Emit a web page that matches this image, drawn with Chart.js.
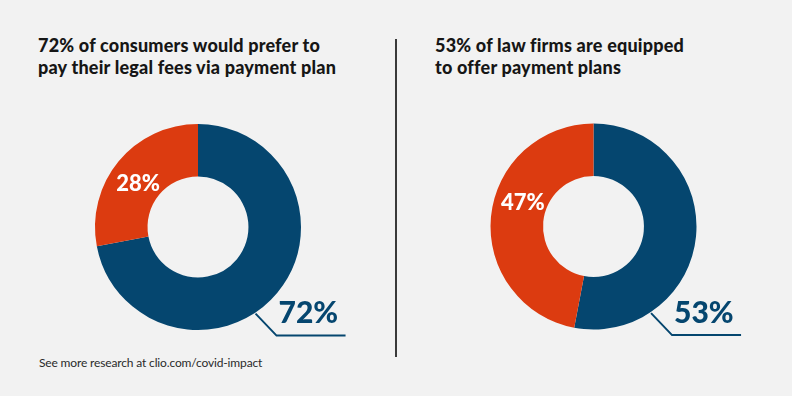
<!DOCTYPE html>
<html>
<head>
<meta charset="utf-8">
<script src="https://cdn.jsdelivr.net/npm/chart.js@4"></script>
<style>
  html, body { margin:0; padding:0; }
  body { width:792px; height:396px; background:#f2f2f2; position:relative; overflow:hidden; font-family: Lato, "Noto Sans", sans-serif; }
  .title { position:absolute; top:34px; font-weight:900; font-size:18px; line-height:22px; color:#161616; white-space:nowrap; letter-spacing:0.2px; }
  #t1 { left:38px; }
  #t2 { left:435px; }
  #divider { position:absolute; left:395px; top:39px; width:2px; height:318px; background:#3a3a3a; }
  #footer { position:absolute; left:39px; top:355px; font-size:12px; color:#2a2a2a; white-space:nowrap; letter-spacing:-0.15px; }
  canvas { position:absolute; top:0; }
  #c1 { left:0; }
  #c2 { left:396px; }
</style>
</head>
<body>
<div id="t1" class="title"></div>
<div id="t2" class="title"></div>
<div id="divider"></div>
<div id="footer"></div>
<canvas id="c1" width="396" height="396"></canvas>
<canvas id="c2" width="396" height="396"></canvas>
<script>
const titleLeft = ["72% of consumers would prefer to", "pay their legal fees via payment plan"];
const titleRight = ["53% of law firms are equipped", "to offer payment plans"];
const footerText = "See more research at clio.com/covid-impact";
const categories = ["Yes", "No"];
const leftValues = [72, 28];
const rightValues = [53, 47];
const sliceColors = ["#05466f", "#dc3b10"];

document.getElementById('t1').innerHTML = titleLeft.join('<br>');
document.getElementById('t2').innerHTML = titleRight.join('<br>');
document.getElementById('footer').textContent = footerText;

const labelPlugin = {
  id: 'labelPlugin',
  afterDraw(chart, args, opts) {
    const ctx = chart.ctx;
    const meta = chart.getDatasetMeta(0);
    const vals = chart.data.datasets[0].data;
    const big = meta.data[0], small = meta.data[1];
    const cx = big.x, cy = big.y;
    const R = big.outerRadius, r0 = big.innerRadius;
    ctx.save();
    // small slice label
    const a = small.startAngle + opts.smallFrac * (small.endAngle - small.startAngle);
    const rm = (R + r0) / 2 - 2;
    ctx.fillStyle = '#ffffff';
    ctx.font = '900 22px Lato';
    ctx.textAlign = 'center';
    ctx.textBaseline = 'middle';
    ctx.fillText(vals[1] + '%', cx + rm * Math.cos(a), cy + rm * Math.sin(a) + 1);
    // leader line for big slice
    const la = opts.leaderAngle * Math.PI / 180;
    const x0 = cx + (R + 1) * Math.cos(la), y0 = cy + (R + 1) * Math.sin(la);
    const x1 = x0 + 21, y1 = y0 + 22;
    const x2 = x1 + 69;
    ctx.strokeStyle = sliceColors[0];
    ctx.lineWidth = 2;
    ctx.beginPath();
    ctx.moveTo(x0, y0); ctx.lineTo(x1, y1); ctx.lineTo(x2, y1);
    ctx.stroke();
    ctx.fillStyle = sliceColors[0];
    ctx.font = '900 30px Lato';
    ctx.textAlign = 'left';
    ctx.textBaseline = 'alphabetic';
    ctx.fillText(vals[0] + '%', x1 + 2, y1 - 12.5);
    ctx.restore();
  }
};

function makeChart(id, values, pad, smallFrac) {
  return new Chart(document.getElementById(id), {
    type: 'doughnut',
    data: { labels: categories, datasets: [{ data: values, backgroundColor: sliceColors, borderWidth: 0, hoverOffset: 0 }] },
    options: {
      responsive: false, animation: false, cutout: '49%',
      layout: { padding: pad },
      plugins: { legend: { display: false }, tooltip: { enabled: false },
        labelPlugin: { smallFrac: smallFrac, leaderAngle: 56.4 } },
      events: []
    },
    plugins: [labelPlugin]
  });
}
makeChart('c1', leftValues, { left: 95, right: 95, top: 124, bottom: 66 }, 0.47);
makeChart('c2', rightValues, { left: 94.5, right: 95.5, top: 123.5, bottom: 66.5 }, 0.58);
</script>
</body>
</html>
